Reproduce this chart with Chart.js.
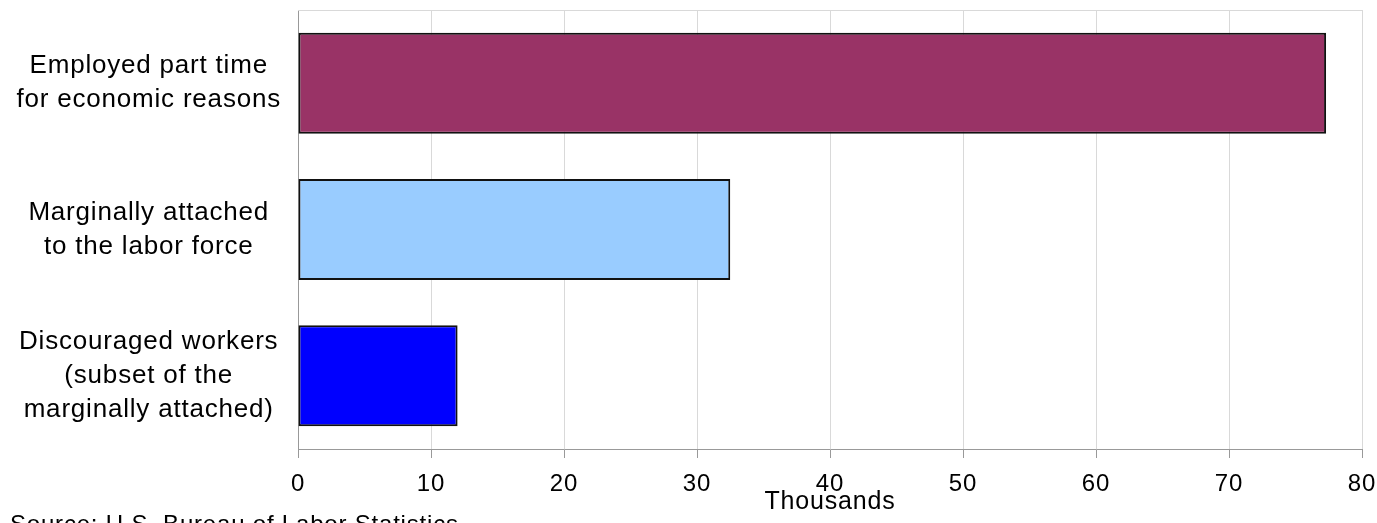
<!DOCTYPE html>
<html>
<head>
<meta charset="utf-8">
<script src="https://cdn.jsdelivr.net/npm/chart.js@4"></script>
<style>
html,body{margin:0;padding:0;background:#fff}
#wrap{width:1377px;height:523px}
</style>
</head>
<body>
<div id="wrap"><canvas id="chart"></canvas></div>
<script>
const categories=[
["Employed part time","for economic reasons"],
["Marginally attached","to the labor force"],
["Discouraged workers","(subset of the","marginally attached)"]
]
const values=[77.3,32.5,12.0]
const barColors=["#993366","#99ccff","#0000ff"]
const axisMin=0
const axisMax=80
const axisStep=10
const axisTitle="Thousands"
const sourceText="Source: U.S. Bureau of Labor Statistics"

const FONT="'Liberation Sans', Arial, sans-serif"

// the original text is a bit wider than Arial, so space the letters a little
function spacing(chart){
if("letterSpacing" in chart.ctx) chart.ctx.letterSpacing="0.8px"
}

/* top border of the plot + source note */
const extras={
id:"extras",
beforeLayout(chart){spacing(chart)},
beforeDraw(chart){spacing(chart)},
beforeDatasetsDraw(chart){
const {ctx,chartArea}=chart
ctx.save()
ctx.strokeStyle="#d9d9d9"
ctx.lineWidth=1
ctx.beginPath()
ctx.moveTo(chartArea.left,chartArea.top+0.5)
ctx.lineTo(chartArea.right,chartArea.top+0.5)
ctx.stroke()
ctx.restore()
},
afterDraw(chart){
const ctx=chart.ctx
ctx.save()
ctx.fillStyle="#000"
ctx.font="24px "+FONT
ctx.textBaseline="alphabetic"
ctx.fillText(sourceText,10,532)
ctx.restore()
}
}

new Chart(document.getElementById("chart"),{
type:"bar",
data:{
labels:categories,
datasets:[{
data:values,
backgroundColor:barColors,
borderColor:"#111",
borderWidth:2,
borderSkipped:false,
barPercentage:0.69,
categoryPercentage:1
}]
},
options:{
indexAxis:"y",
responsive:true,
maintainAspectRatio:false,
animation:false,
layout:{padding:{top:10,right:15,left:0,bottom:0}},
plugins:{
legend:{display:false},
tooltip:{enabled:false}
},
scales:{
x:{
min:axisMin,
max:axisMax,
ticks:{stepSize:axisStep,color:"#000",padding:12,font:{family:FONT,size:24}},
grid:{color:"#d9d9d9",tickColor:"#999",tickLength:9},
border:{color:"#999"},
title:{display:true,text:axisTitle,color:"#000",font:{family:FONT,size:25},padding:{top:0,bottom:6}},
afterFit(scale){scale.height=74;scale.paddingLeft=0;scale.paddingRight=0}
},
y:{
grid:{display:false,drawTicks:false},
border:{color:"#999"},
ticks:{color:"#000",crossAlign:"center",padding:17,font:{family:FONT,size:26,lineHeight:"34px"}},
afterFit(scale){scale.width=298;scale.paddingTop=0;scale.paddingBottom=0}
}
}
},
plugins:[extras]
})
</script>
</body>
</html>
